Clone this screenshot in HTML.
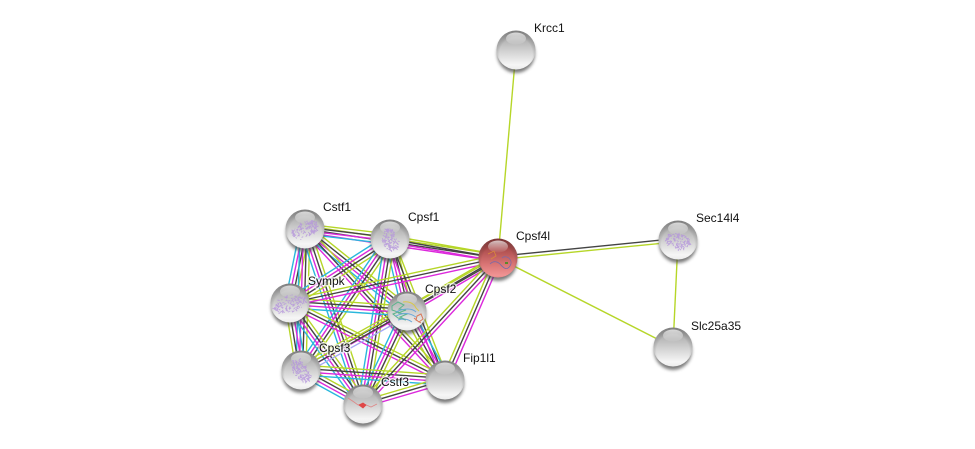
<!DOCTYPE html>
<html>
<head>
<meta charset="utf-8">
<style>
html,body{margin:0;padding:0;background:#fff;width:975px;height:449px;overflow:hidden}
svg{display:block}
text{font-family:"Liberation Sans",sans-serif;font-size:12px;fill:#111;paint-order:stroke;stroke:rgba(255,255,255,.7);stroke-width:3px;stroke-linejoin:round}
</style>
</head>
<body>
<svg id="s" width="975" height="449" viewBox="0 0 975 449" xmlns="http://www.w3.org/2000/svg">
<defs>
<filter id="bl" x="-30%" y="-30%" width="160%" height="160%"><feGaussianBlur stdDeviation="1.5"/></filter>
<radialGradient id="g" cx="50%" cy="60%" r="54%">
<stop offset="0" stop-color="#000" stop-opacity="0"/><stop offset=".78" stop-color="#000" stop-opacity="0"/><stop offset="1" stop-color="#444" stop-opacity=".22"/>
</radialGradient>
<linearGradient id="gl" x1="0" y1="0" x2="0" y2="1">
<stop offset="0" stop-color="#8e8e8e"/><stop offset=".25" stop-color="#b4b4b4"/><stop offset=".55" stop-color="#d4d4d4"/><stop offset=".88" stop-color="#f6f6f6"/><stop offset="1" stop-color="#ececec"/>
</linearGradient>
<linearGradient id="r" x1="0" y1="0" x2="0" y2="1">
<stop offset="0" stop-color="#8a3030"/><stop offset=".3" stop-color="#b05050"/><stop offset=".65" stop-color="#d87474"/><stop offset=".95" stop-color="#f09494"/><stop offset="1" stop-color="#e88888"/>
</linearGradient>
<linearGradient id="h" x1="0" y1="0" x2="0" y2="1">
<stop offset="0" stop-color="#fff" stop-opacity=".7"/><stop offset="1" stop-color="#fff" stop-opacity=".05"/>
</linearGradient>
<g id="ball">
<ellipse cx="0" cy="3.5" rx="19" ry="19.5" fill="#444" opacity=".7" filter="url(#bl)"/>
<circle r="19.5" fill="url(#gl)"/>
<circle r="19.5" fill="url(#g)"/>
<ellipse cx="0" cy="-11.5" rx="10" ry="6" fill="url(#h)"/>
</g>
<g id="rball">
<ellipse cx="0" cy="3.5" rx="19" ry="19.5" fill="#444" opacity=".7" filter="url(#bl)"/>
<circle r="19.5" fill="url(#r)"/>
<circle r="19.5" fill="url(#g)"/>
<ellipse cx="0" cy="-11.5" rx="10" ry="6" fill="url(#h)"/>
</g>
</defs>
<g id="edges"></g>
<use href="#ball" x="516" y="50"/>
<use href="#rball" x="498" y="258"/>
<use href="#ball" x="678" y="240"/>
<use href="#ball" x="673" y="347"/>
<use href="#ball" x="305" y="229"/>
<use href="#ball" x="390" y="239"/>
<use href="#ball" x="290" y="303"/>
<use href="#ball" x="407" y="311"/>
<use href="#ball" x="301" y="370"/>
<use href="#ball" x="363" y="404"/>
<use href="#ball" x="445" y="380"/>
<g id="tex" fill="none" stroke-width=".9"></g>
<g fill="none" stroke-width=".8">
<path d="M488 254l6-3 2 5-5 3" stroke="#d98a3a"/>
<path d="M490 264c4-4 8-2 10 0s6 8 10 2-4-12-8-8" stroke="#7a6aa8"/>
<path d="M505 263l3 0" stroke="#5a8a2a" stroke-width="2"/>
<path d="M348 398l6 4 4 3 6-1 7 3 6-3" stroke="#d88"/>
<path d="M359 405l4 3 3-3-3-2z" fill="#e04848" stroke="#e04848"/>
<path d="M392 306l6-4 6 3-5 4 7 1-8 3 9 1-7 3 6 3-8-2-5-4 5-2-6-2z" stroke="#5ab48c" stroke-width="1"/>
<path d="M396 312c8-4 16-4 20 0M396 316c8-4 14-3 20 1M398 320c6-2 10-1 14 2" stroke="#6aa8d8" stroke-width="1"/>
<path d="M403 302c5-1 11 1 13 6l3 3" stroke="#d8c84a" stroke-width="1"/>
<path d="M414 318l5 4 4-3-2-5-4 2-1 4 5 3" stroke="#d8785a" stroke-width="1"/>
</g>
<text x="534" y="32">Krcc1</text>
<text x="516" y="240">Cpsf4l</text>
<text x="696" y="222">Sec14l4</text>
<text x="691" y="330">Slc25a35</text>
<text x="323" y="211">Cstf1</text>
<text x="408" y="221">Cpsf1</text>
<text x="308" y="285">Sympk</text>
<text x="425" y="293">Cpsf2</text>
<text x="319" y="352">Cpsf3</text>
<text x="381" y="386">Cstf3</text>
<text x="463" y="362">Fip1l1</text>
</svg>
<script>
(function(){
var N={K:[516,50],F:[498,258],S:[678,240],L:[673,347],A:[305,229],B:[390,239],Y:[290,303],P:[407,311],C:[301,370],T:[363,404],I:[445,380]};
var col={c:'#2ab7dc',m:'#dc28dc',b:'#444444',y:'#b6d628',v:'#a8a8f4'};
var E=[['A','F','mby'],['A','B','cmby'],['B','F','mby'],['A','Y','cmby'],['A','P','cmby'],['A','C','cmby'],['A','T','cmby'],['A','I','mby'],
['B','Y','cmby'],['B','P','cmby'],['B','C','cmby'],['B','T','cmby'],['B','I','mby'],['Y','P','cmby'],['C','Y','cmby'],['Y','T','cmby'],['Y','I','mby'],
['Y','F','mby'],['C','P','vmby'],['P','T','cmby'],['I','P','cmby'],['P','F','mby'],['C','T','cmby'],['C','I','cmby'],['T','I','mby'],['C','F','by'],['T','F','mby'],['I','F','mby'],
['F','S','yb'],['S','L','y'],['F','L','y'],['K','F','y']];
var ns='http://www.w3.org/2000/svg',g=document.getElementById('edges');
E.forEach(function(e){
 var a=N[e[0]],b=N[e[1]],dx=b[0]-a[0],dy=b[1]-a[1],l=Math.hypot(dx,dy),nx=dy/l,ny=-dx/l,s=e[2],n=s.length,sp=3.3;
 for(var i=0;i<n;i++){
  var o=(i-(n-1)/2)*sp,ln=document.createElementNS(ns,'line');
  ln.setAttribute('x1',a[0]+nx*o);ln.setAttribute('y1',a[1]+ny*o);
  ln.setAttribute('x2',b[0]+nx*o);ln.setAttribute('y2',b[1]+ny*o);
  ln.setAttribute('stroke',col[s[i]]);ln.setAttribute('stroke-width',1.4);
  g.appendChild(ln);
 }
});
var t=document.getElementById('tex'),seed=7;
function R(){seed=(seed*16807)%2147483647;return seed/2147483647;}
[['A',0,13,-.5],['B',0,11,1.4],['Y',0,16,-.3],['C',0,12,.9],['S',0,12,.2]].forEach(function(p){
 var c=N[p[0]],d='',ca=Math.cos(p[3]),sa=Math.sin(p[3]);
 for(var i=0;i<120;i++){
  var u=(R()-.5)*2*p[2],v=(R()-.5)*2*8*Math.sqrt(Math.max(0,1-u*u/(p[2]*p[2])));
  var x=c[0]+u*ca-v*sa,y=c[1]+1+u*sa+v*ca;
  d+='M'+x.toFixed(1)+' '+y.toFixed(1)+'l'+((R()-.5)*5).toFixed(1)+' '+((R()-.5)*5).toFixed(1)+' ';
 }
 var q=document.createElementNS(ns,'path');q.setAttribute('d',d);q.setAttribute('stroke','#b494dc');q.setAttribute('opacity','.8');t.appendChild(q);
});
})();
</script>
</body>
</html>
